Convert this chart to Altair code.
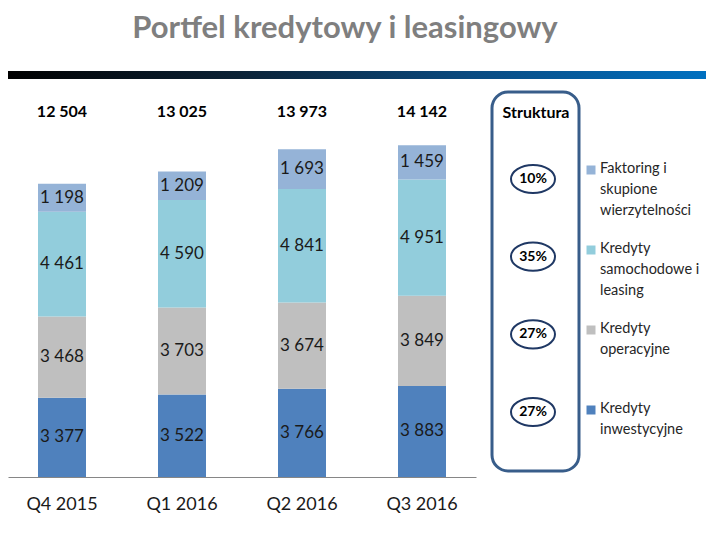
import altair as alt
import pandas as pd

# ---------------- data ----------------
quarters = ["Q4 2015", "Q1 2016", "Q2 2016", "Q3 2016"]
series = ["Kredyty inwestycyjne", "Kredyty operacyjne",
          "Kredyty samochodowe i leasing", "Faktoring i skupione wierzytelności"]
inwestycyjne = [3377, 3522, 3766, 3883]
operacyjne = [3468, 3703, 3674, 3849]
samochodowe = [4461, 4590, 4841, 4951]
faktoring = [1198, 1209, 1693, 1459]
totals = [12504, 13025, 13973, 14142]
series_colors = ["#4F81BD", "#BFBFBF", "#92CDDC", "#95B3D7"]

legend_labels = ["Faktoring i\nskupione\nwierzytelności",
                 "Kredyty\nsamochodowe i\nleasing",
                 "Kredyty\noperacyjne",
                 "Kredyty\ninwestycyjne"]
legend_colors = ["#95B3D7", "#92CDDC", "#BFBFBF", "#4F81BD"]
structure = ["10%", "35%", "27%", "27%"]

title_text = "Portfel kredytowy i leasingowy"
box_title = "Struktura"

FONT = "Lato"


def fmt(v):
    return f"{v:,}".replace(",", " ")


# ---------------- tables ----------------
rows = []
for qi, q in enumerate(quarters):
    cum = 0
    for si, (name, vals) in enumerate(zip(series, [inwestycyjne, operacyjne, samochodowe, faktoring])):
        v = vals[qi]
        rows.append({"quarter": q, "series": name, "value": v, "idx": si,
                     "mid": cum + v / 2, "label": fmt(v)})
        cum += v
df = pd.DataFrame(rows)
df_tot = pd.DataFrame({"quarter": quarters, "total": totals,
                       "label": [fmt(t) for t in totals]})
df_leg = pd.DataFrame({"name": legend_labels, "color": legend_colors,
                       "pct": structure, "key": ["a", "b", "c", "d"]})

x_enc = alt.X("quarter:N", sort=quarters,
              scale=alt.Scale(domain=quarters, range=[0, 468],
                              paddingInner=0.6, paddingOuter=0.25),
              axis=alt.Axis(title=None, labelAngle=0, ticks=False,
                            labelFontSize=18, labelFont=FONT,
                            labelColor="#1a1a1a", labelPadding=18,
                            domainColor="#868686", domainWidth=1,
                            grid=False, offset=-58))
y_scale = alt.Scale(domain=[0, 19806], range=[469, 0])

bars = alt.Chart(df).mark_bar().encode(
    x=x_enc,
    y=alt.Y("value:Q", stack="zero", scale=y_scale, axis=None),
    color=alt.Color("series:N", scale=alt.Scale(domain=series, range=series_colors),
                    legend=None),
    order=alt.Order("idx:Q", sort="ascending"),
)

seg_labels = alt.Chart(df).mark_text(
    font=FONT, fontSize=17, color="#1a1a1a", baseline="middle"
).encode(
    x=alt.X("quarter:N", sort=quarters),
    y=alt.Y("mid:Q"),
    text="label:N",
)

tot_labels = alt.Chart(df_tot).mark_text(
    font=FONT, fontSize=16, fontWeight="bold", color="#000000", baseline="middle"
).encode(
    x=alt.X("quarter:N", sort=quarters),
    y=alt.value(104),
    text="label:N",
)

bar_layer = alt.layer(bars, seg_labels, tot_labels)

# ---------------- decorations ----------------
one = pd.DataFrame({"t": [title_text]})
title = alt.Chart(one).mark_text(
    font=FONT, fontSize=31, fontWeight="bold", color="#7F7F7F",
    baseline="alphabetic", align="center"
).encode(x=alt.value(337), y=alt.value(30), text="t:N")

grad = alt.Chart(one).mark_rect(
    color=alt.Gradient(gradient="linear", x1=0, x2=1, y1=0, y2=0,
                       stops=[alt.GradientStop(color="#000000", offset=0),
                              alt.GradientStop(color="#0B2236", offset=0.33),
                              alt.GradientStop(color="#0A4A80", offset=0.66),
                              alt.GradientStop(color="#0070C0", offset=1)])
).encode(x=alt.value(0), x2=alt.value(698), y=alt.value(63), y2=alt.value(71))

box = alt.Chart(one).mark_rect(
    cornerRadius=16, fillOpacity=0, stroke="#385D8A", strokeWidth=3
).encode(x=alt.value(484), x2=alt.value(571), y=alt.value(84), y2=alt.value(463))

box_t = alt.Chart(pd.DataFrame({"t": [box_title]})).mark_text(
    font=FONT, fontSize=16, fontWeight="bold", color="#000000", baseline="middle"
).encode(x=alt.value(528), y=alt.value(105), text="t:N")

keys = ["a", "b", "c", "d"]
ell_y = alt.Y("key:N", scale=alt.Scale(type="point", domain=keys, range=[171, 404],
                                       padding=0), axis=None)
ellipse_path = "M -1 0 A 1 0.64 0 1 0 1 0 A 1 0.64 0 1 0 -1 0 Z"
ellipses = alt.Chart(df_leg).mark_point(
    shape=ellipse_path, size=44 * 44, filled=False, stroke="#1F3864",
    strokeWidth=2, opacity=1
).encode(x=alt.value(525), y=ell_y)
ell_text = alt.Chart(df_leg).mark_text(
    font=FONT, fontSize=14, fontWeight="bold", color="#000000", baseline="middle"
).encode(x=alt.value(525), y=ell_y, text="pct:N")
ell_layer = alt.layer(ellipses, ell_text)

leg_y = alt.Y("key:N", scale=alt.Scale(type="point", domain=keys, range=[162, 402],
                                       padding=0), axis=None)
leg_sq = alt.Chart(df_leg).mark_square(size=81, opacity=1).encode(
    x=alt.value(583), y=leg_y,
    color=alt.Color("color:N", scale=None, legend=None))
leg_txt = alt.Chart(df_leg).mark_text(
    font=FONT, fontSize=14.5, color="#262626", align="left", baseline="top",
    lineBreak="\n", lineHeight=21, dy=-8
).encode(x=alt.value(592), y=leg_y, text="name:N")
leg_layer = alt.layer(leg_sq, leg_txt)

chart = alt.layer(
    grad, title, box, box_t, bar_layer, ell_layer, leg_layer
).resolve_scale(y="independent", x="independent", color="independent").properties(
    width=698, height=527, autosize=alt.AutoSizeParams(type="none"), padding=0
).configure_view(stroke=None)

chart.save("out.html", embed_options={"renderer": "svg", "actions": False})
